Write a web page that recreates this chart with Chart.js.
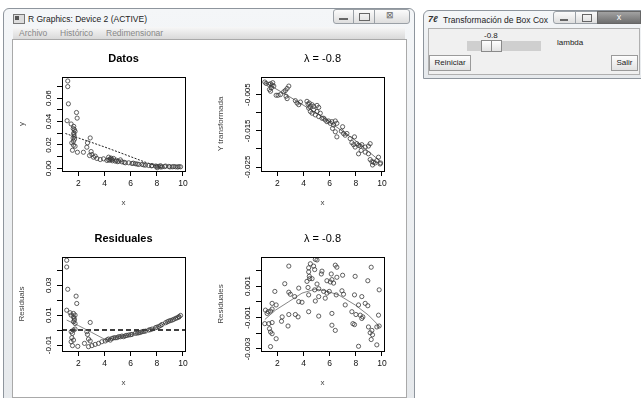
<!DOCTYPE html>
<html>
<head>
<meta charset="utf-8">
<script src="https://cdn.jsdelivr.net/npm/chart.js@4.4.1/dist/chart.umd.min.js"></script>
<style>
  body { margin:0; width:641px; height:398px; overflow:hidden; background:#fff; font-family:"Liberation Sans", Arial, sans-serif; position:relative; }
  .abs { position:absolute; }
  .win { border:1px solid #8e959d; border-radius:6px 6px 0 0; background:linear-gradient(#f4f6f8,#e6e9ec); }
  .ttl { font-size:8.5px; color:#222; white-space:nowrap; }
  .btn { border:1px solid #9aa0a6; background:linear-gradient(#fbfbfb,#dedede); box-sizing:border-box; }
  .menu span { position:absolute; top:1px; font-size:8.5px; color:#888; }
  canvas { position:absolute; }
  .tkbtn { border:1px solid #9a9a9a; background:linear-gradient(#fdfdfd,#e2e2e2); font-size:8px; color:#222; text-align:center; line-height:14px; box-sizing:border-box; }
</style>
</head>
<body>

<!-- R graphics window -->
<div class="abs win" style="left:3px;top:8px;width:410px;height:396px;"></div>
<div class="abs" style="left:13px;top:14px;width:10px;height:8px;border:1px solid #777;background:#ddd;"></div>
<div class="abs" style="left:15px;top:16px;width:4px;height:4px;background:#555;"></div>
<div class="abs ttl" style="left:28px;top:14px;">R Graphics: Device 2 (ACTIVE)</div>
<div class="abs btn" style="left:333px;top:9px;width:21px;height:15px;border-radius:3px 0 0 3px;"></div>
<div class="abs" style="left:339px;top:18px;width:9px;height:2px;background:#666;"></div>
<div class="abs btn" style="left:353px;top:9px;width:22px;height:15px;"></div>
<div class="abs" style="left:359px;top:13px;width:9px;height:6px;border:1px solid #666;"></div>
<div class="abs btn" style="left:374px;top:9px;width:36px;height:15px;border-radius:0 3px 3px 0;"></div>
<div class="abs" style="left:386px;top:10px;font-size:9px;color:#666;">&#8864;</div>
<div class="abs menu" style="left:13px;top:27px;width:392px;height:12px;background:linear-gradient(#f7f7f7,#d9d9d9);">
  <span style="left:6px;">Archivo</span>
  <span style="left:47px;">Histórico</span>
  <span style="left:93px;">Redimensionar</span>
</div>
<div class="abs" style="left:12px;top:39px;width:393px;height:357px;background:#fff;border:1px solid #a9a9a9;"></div>

<!-- Box Cox window -->
<div class="abs win" style="left:423px;top:10px;width:222px;height:67px;"></div>
<div class="abs" style="left:428px;top:14px;font-size:9px;font-weight:bold;color:#333;font-style:italic;">7ℓ</div>
<div class="abs ttl" style="left:443px;top:15px;">Transformación de Box Cox</div>
<div class="abs btn" style="left:553px;top:11px;width:23px;height:13px;border-radius:3px 0 0 3px;"></div>
<div class="abs" style="left:560px;top:19px;width:8px;height:2px;background:#666;"></div>
<div class="abs btn" style="left:575px;top:11px;width:23px;height:13px;"></div>
<div class="abs" style="left:582px;top:14px;width:8px;height:6px;border:1px solid #666;"></div>
<div class="abs" style="left:597px;top:11px;width:44px;height:13px;background:linear-gradient(#a2a2a2,#6e6e6e);border:1px solid #666;box-sizing:border-box;color:#fff;font-size:9px;text-align:center;line-height:11px;">x</div>
<div class="abs" style="left:428px;top:28px;width:210px;height:45px;background:#f0f0f0;border:1px solid #b0b0b0;"></div>
<div class="abs" style="left:484px;top:31px;font-size:8px;color:#222;">-0.8</div>
<div class="abs" style="left:467px;top:41px;width:74px;height:10px;background:#cfcfcf;"></div>
<div class="abs" style="left:481px;top:40px;width:21px;height:12px;background:linear-gradient(#ffffff,#e4e4e4);border:1px solid #8a8a8a;box-sizing:border-box;"></div>
<div class="abs" style="left:491px;top:41px;width:1px;height:10px;background:#8a8a8a;"></div>
<div class="abs" style="left:557px;top:38px;font-size:8px;color:#222;">lambda</div>
<div class="abs tkbtn" style="left:429px;top:55px;width:42px;height:16px;">Reiniciar</div>
<div class="abs tkbtn" style="left:611px;top:55px;width:27px;height:16px;">Salir</div>

<canvas id="c1" width="200" height="180" style="left:12px;top:40px;"></canvas>
<canvas id="c2" width="200" height="180" style="left:211px;top:40px;"></canvas>
<canvas id="c3" width="200" height="180" style="left:12px;top:220px;"></canvas>
<canvas id="c4" width="200" height="180" style="left:211px;top:220px;"></canvas>

<script>
// ---- Datos ----
const datosX = [1.18,1.18,1.23,1.13,1.44,1.64,1.69,1.64,1.74,1.67,1.59,1.62,1.85,1.90,1.49,1.62,1.74,1.54,1.92,2.38,
  2.90,2.69,2.64,2.97,2.85,3.15,3.41,3.67,3.92,4.18,4.44,4.56,4.82,5.08,5.33,5.59,5.85,6.10,6.36,6.62,
  6.87,7.13,7.38,7.64,7.90,8.15,8.41,8.67,8.92,9.18,9.44,9.82,3.03,3.28,4.31,4.69,5.21,4.31,8.03,8.28,
  4.40,4.50,4.60,4.90,5.00,5.50,6.20,6.50,7.00,7.60,8.00,8.30,8.60,9.00,9.30,9.60,9.70,1.65,1.70,1.60];
const datosY = [0.0746,0.0698,0.0551,0.0407,0.0379,0.0359,0.0331,0.0302,0.0316,0.0274,0.0260,0.0232,0.0477,0.0429,0.0218,0.0198,0.0189,0.0155,0.0138,0.0138,
  0.0260,0.0218,0.0181,0.0144,0.0110,0.0096,0.0085,0.0076,0.0082,0.0068,0.0082,0.0076,0.0062,0.0062,0.0056,0.0048,0.0048,0.0042,0.0040,0.0034,
  0.0034,0.0028,0.0025,0.0025,0.0020,0.0017,0.0014,0.0020,0.0017,0.0014,0.0014,0.0014,0.0119,0.0105,0.0096,0.0085,0.0073,0.0073,0.0006,0.0023,
  0.0070,0.0088,0.0065,0.0070,0.0058,0.0052,0.0045,0.0037,0.0030,0.0022,0.0018,0.0012,0.0016,0.0013,0.0016,0.0012,0.0015,0.0290,0.0250,0.0340];
const datosLineX = [1.0, 2, 3, 4, 5, 6, 7, 8, 8.3];
const datosLineY = [0.0298, 0.0260, 0.0222, 0.0183, 0.0142, 0.0100, 0.0058, 0.0020, 0.0012];
const datosYLabels = ['0.00', '0.02', '0.04', '0.06'];

// ---- lambda = -0.8, transformed ----
const transX = [1.03,1.13,1.34,1.47,1.59,1.54,1.39,1.64,1.72,1.47,1.90,2.23,2.05,2.61,2.74,2.87,2.48,2.74,2.66,3.37,
  3.50,3.63,3.76,4.26,4.34,4.44,4.52,4.65,4.77,4.39,5.03,5.16,4.52,4.65,4.77,4.90,5.03,5.16,5.28,5.41,
  5.54,5.66,5.79,5.92,6.05,6.17,6.43,6.55,6.30,6.22,6.43,6.55,6.89,7.06,6.99,7.19,7.32,7.57,7.90,7.70,
  7.83,7.95,8.08,8.21,8.34,8.46,8.72,8.97,9.10,8.21,8.41,8.72,8.97,9.10,9.23,9.35,9.48,9.61,9.74,9.86,9.90,9.28];
const transY = [-0.00154,-0.00192,-0.00220,-0.00201,-0.00238,-0.00313,-0.00360,-0.00173,-0.00266,-0.00407,-0.00519,-0.00500,-0.00519,-0.00388,-0.00332,-0.00266,-0.00425,-0.00612,-0.00547,-0.00668,
  -0.00734,-0.00780,-0.00706,-0.00687,-0.00762,-0.00734,-0.00827,-0.00780,-0.00827,-0.00874,-0.00799,-0.00855,-0.00967,-0.01014,-0.00921,-0.01061,-0.00967,-0.01107,-0.01014,-0.01154,
  -0.01154,-0.01201,-0.01248,-0.01229,-0.01294,-0.01248,-0.01229,-0.01294,-0.01341,-0.01435,-0.01528,-0.01668,-0.01509,-0.01575,-0.01388,-0.01622,-0.01575,-0.01715,-0.01668,-0.01827,
  -0.01883,-0.01949,-0.01855,-0.01902,-0.01921,-0.01883,-0.01949,-0.01921,-0.01855,-0.02136,-0.02042,-0.02089,-0.02136,-0.02294,-0.02350,-0.02369,-0.02388,-0.02322,-0.02229,-0.02416,-0.02388,-0.02444];
const transLineX = [1.03, 2.87, 5.41, 7.95, 9.90];
const transLineY = [-0.00164, -0.00547, -0.01107, -0.01762, -0.02350];
const transYLabels = ['-0.005', '-0.015', '-0.025'];

// ---- Residuales ----
const residX = [1.10,1.10,1.18,1.82,1.87,1.10,1.36,1.62,1.74,1.44,1.62,1.69,1.62,1.74,1.67,1.44,1.54,1.62,1.74,1.49,
  1.62,1.44,1.54,1.95,2.90,2.64,2.69,2.77,2.90,2.46,2.77,3.03,3.28,3.54,3.79,4.05,4.31,4.56,4.82,5.08,
  5.33,5.59,5.85,6.10,6.36,6.62,6.87,7.13,7.38,7.64,7.90,8.15,8.41,8.67,8.92,9.18,9.44,9.69,9.82,4.44,
  4.95,5.46,6.74,9.05,9.56,4.20,4.70,5.20,5.70,6.00,6.50,7.00,7.50,8.00,8.30,8.80,9.30,9.70];
const residY = [0.0467,0.0422,0.0273,0.0227,0.0178,0.0133,0.0116,0.0111,0.0100,0.0100,0.0089,0.0067,0.0056,0.0044,0.0078,-0.0011,-0.0022,0.0000,0.0007,-0.0051,
  -0.0067,-0.0078,-0.0104,-0.0109,0.0051,-0.0011,-0.0029,-0.0060,-0.0073,-0.0089,-0.0111,-0.0104,-0.0096,-0.0089,-0.0078,-0.0073,-0.0060,-0.0056,-0.0051,-0.0044,
  -0.0040,-0.0038,-0.0033,-0.0029,-0.0022,-0.0018,-0.0011,-0.0007,0.0000,0.0007,0.0016,0.0024,0.0038,0.0049,0.0060,0.0067,0.0078,0.0087,0.0098,-0.0067,
  -0.0051,-0.0044,-0.0016,0.0064,0.0082,-0.0065,-0.0052,-0.0045,-0.0036,-0.0031,-0.0020,-0.0009,0.0003,0.0019,0.0031,0.0055,0.0072,0.0090];
const residLineX = [1.1, 2, 3, 4.1, 5, 6, 7, 8, 9, 9.82];
const residLineY = [0.0067, 0.0030, -0.0015, -0.0066, -0.0046, -0.0031, -0.0009, 0.0019, 0.0062, 0.0098];
const zeroLineX = [0.74, 10.16];
const zeroLineY = [0, 0];
const residYLabels = ['-0.01', '0.01', '0.03'];

// ---- lambda = -0.8, residuales ----
const rtX = [4.90,5.03,4.52,4.77,4.39,4.85,2.87,6.43,6.55,9.18,5.41,5.36,4.39,4.44,4.47,4.26,4.65,6.12,6.99,6.55,
  7.95,6.17,6.05,6.30,5.79,8.92,2.56,5.03,3.63,1.80,2.87,2.99,4.34,4.85,5.16,5.54,5.79,5.97,6.94,9.79,
  4.39,3.32,5.16,6.50,7.06,7.90,8.46,1.59,1.90,3.63,3.88,4.90,5.66,7.19,8.21,8.72,8.92,1.08,1.29,1.47,
  1.59,1.21,4.39,2.87,3.37,3.58,6.17,7.70,8.01,8.34,8.54,9.74,2.36,1.03,1.34,1.59,2.31,2.81,6.17,6.43,
  7.78,7.90,8.97,9.23,9.10,9.28,9.61,9.79,1.39,1.47,1.59,1.90,8.46,1.47,8.21,9.61,9.18,5.16];
const rtY = [0.00270,0.00266,0.00242,0.00227,0.00216,0.00205,0.00227,0.00233,0.00220,0.00220,0.00195,0.00177,0.00190,0.00162,0.00147,0.00130,0.00147,0.00177,0.00169,0.00156,
  0.00162,0.00141,0.00126,0.00119,0.00134,0.00134,0.00115,0.00113,0.00087,0.00066,0.00061,0.00048,0.00091,0.00076,0.00083,0.00066,0.00055,0.00066,0.00070,0.00076,
  0.00044,0.00033,0.00033,0.00044,0.00048,0.00044,0.00033,-0.00010,-0.00020,0.00001,-0.00003,0.00005,0.00023,-0.00020,-0.00020,-0.00010,-0.00025,-0.00053,-0.00063,-0.00059,
  -0.00046,-0.00074,-0.00063,-0.00081,-0.00081,-0.00096,-0.00074,-0.00063,-0.00081,-0.00085,-0.00096,-0.00085,-0.00096,-0.00139,-0.00139,-0.00132,-0.00124,-0.00154,-0.00149,-0.00182,
  -0.00139,-0.00145,-0.00160,-0.00182,-0.00197,-0.00210,-0.00160,-0.00154,-0.00171,-0.00192,-0.00203,-0.00235,-0.00106,-0.00285,-0.00283,-0.00274,-0.00240,-0.00091];
const rtLineX = [1.03, 1.85, 2.87, 3.88, 4.90, 5.66, 6.68, 7.95, 8.97, 9.86];
const rtLineY = [-0.00113, -0.00053, 0.00001, 0.00055, 0.00081, 0.00070, 0.00044, -0.00020, -0.00085, -0.00160];
const rtYLabels = ['-0.003', '-0.001', '0.001'];

const xTickLabels = ['2', '4', '6', '8', '10'];

function pts(xs, ys) {
  return xs.map((x, i) => ({x: x, y: ys[i]}));
}

// R style: box, rotated y tick labels, titles
const rFrame = {
  id: 'rFrame',
  afterDraw(chart, args, opts) {
    const ctx = chart.ctx;
    const a = chart.chartArea;
    const ys = chart.scales.y;
    ctx.save();
    ctx.strokeStyle = '#000';
    ctx.lineWidth = 1;
    ctx.strokeRect(Math.round(a.left) + 0.5, Math.round(a.top) + 0.5, Math.round(a.right - a.left), Math.round(a.bottom - a.top));
    ctx.fillStyle = '#000';
    ctx.textAlign = 'center';
    ctx.textBaseline = 'middle';
    ctx.font = opts.titleFont;
    ctx.fillText(opts.title, (a.left + a.right) / 2, a.top - 18);
    ctx.font = '8px "Liberation Sans"';
    ys.ticks.forEach(t => {
      if (!t.label) return;
      ctx.save();
      ctx.translate(a.left - 13, ys.getPixelForValue(t.value));
      ctx.rotate(-Math.PI / 2);
      ctx.fillText(t.label, 0, 0);
      ctx.restore();
    });
    ctx.fillStyle = '#444';
    ctx.fillText(opts.xTitle, (a.left + a.right) / 2, a.bottom + 32);
    ctx.save();
    ctx.translate(a.left - 40, (a.top + a.bottom) / 2);
    ctx.rotate(-Math.PI / 2);
    ctx.fillText(opts.yTitle, 0, 0);
    ctx.restore();
    ctx.restore();
  }
};

function panel(id, p) {
  const datasets = [{
    data: pts(p.x, p.y),
    showLine: false,
    pointStyle: 'circle',
    pointRadius: 2.1,
    borderColor: '#3a3a3a',
    backgroundColor: 'rgba(0,0,0,0)',
    borderWidth: 0.8
  }];
  p.lines.forEach(l => datasets.push({
    data: pts(l.x, l.y),
    showLine: true,
    pointRadius: 0,
    borderColor: l.color,
    borderWidth: l.width,
    borderDash: l.dash || [],
    tension: 0
  }));
  new Chart(document.getElementById(id), {
    type: 'scatter',
    data: {datasets: datasets},
    plugins: [rFrame],
    options: {
      responsive: false,
      animation: false,
      events: [],
      layout: {padding: {top: 37, right: 27, left: 0, bottom: 0}},
      plugins: {
        legend: {display: false},
        tooltip: {enabled: false},
        rFrame: {title: p.title, titleFont: p.titleFont, xTitle: 'x', yTitle: p.yTitle}
      },
      scales: {
        x: {
          type: 'linear', min: 0.74, max: 10.16,
          afterFit: s => { s.height = 49; },
          ticks: {
            stepSize: 2, includeBounds: false, autoSkip: false, maxRotation: 0,
            color: '#111', padding: 3, font: {size: 8.5, family: 'Liberation Sans'},
            callback: v => xTickLabels.includes(String(v)) ? String(v) : ''
          },
          grid: {drawOnChartArea: false, drawTicks: true, tickLength: 5, color: '#000'},
          border: {display: true, color: '#000'}
        },
        y: {
          type: 'linear', min: p.yMin, max: p.yMax,
          afterFit: s => { s.width = 50; },
          ticks: {
            stepSize: p.step, includeBounds: false, autoSkip: false,
            color: 'rgba(0,0,0,0)', font: {size: 8, family: 'Liberation Sans'},
            callback: v => {
              const s = Number(v).toFixed(p.digits);
              return p.labels.includes(s) ? s : '';
            }
          },
          grid: {drawOnChartArea: false, drawTicks: true, tickLength: 5, color: '#000'},
          border: {display: true, color: '#000'}
        }
      }
    }
  });
}

panel('c1', {
  x: datosX, y: datosY, title: 'Datos', titleFont: 'bold 11px "Liberation Sans"', yTitle: 'y',
  yMin: -0.0022, yMax: 0.078, step: 0.01, digits: 2, labels: datosYLabels,
  lines: [{x: datosLineX, y: datosLineY, color: '#222', width: 1, dash: [2, 1.5]}]
});
panel('c2', {
  x: transX, y: transY, title: 'λ = -0.8', titleFont: '11px "Liberation Sans"', yTitle: 'Y transformada',
  yMin: -0.0261, yMax: -0.00015, step: 0.005, digits: 3, labels: transYLabels,
  lines: [{x: transLineX, y: transLineY, color: '#555', width: 0.8}]
});
panel('c3', {
  x: residX, y: residY, title: 'Residuales', titleFont: 'bold 11px "Liberation Sans"', yTitle: 'Residuals',
  yMin: -0.0140, yMax: 0.0489, step: 0.01, digits: 2, labels: residYLabels,
  lines: [
    {x: residLineX, y: residLineY, color: '#666', width: 0.8},
    {x: zeroLineX, y: zeroLineY, color: '#000', width: 1.5, dash: [5, 3]}
  ]
});
panel('c4', {
  x: rtX, y: rtY, title: 'λ = -0.8', titleFont: '11px "Liberation Sans"', yTitle: 'Residuales',
  yMin: -0.00313, yMax: 0.00285, step: 0.001, digits: 3, labels: rtYLabels,
  lines: [{x: rtLineX, y: rtLineY, color: '#666', width: 0.8}]
});
</script>
</body>
</html>
